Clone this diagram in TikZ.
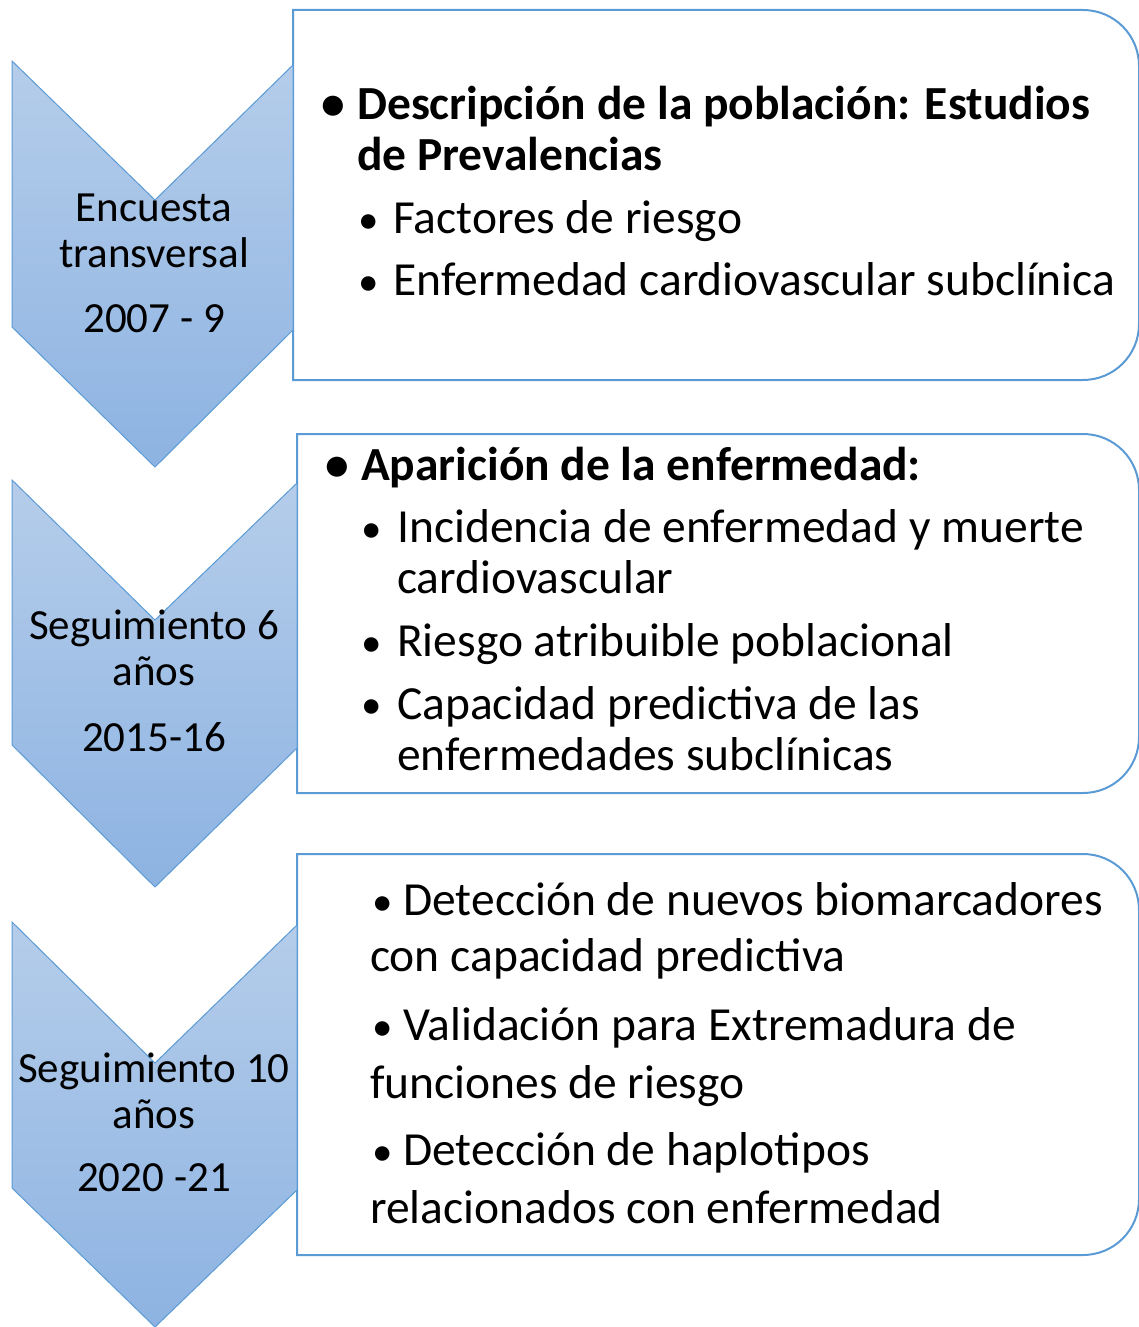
\documentclass[tikz,border=0pt]{standalone}
\usepackage{fontspec}
\setmainfont{Carlito}
\usetikzlibrary{positioning,shapes}
\definecolor{chevtop}{HTML}{B5CDEA}
\definecolor{chevbot}{HTML}{8DB3E2}
\definecolor{edgeblue}{HTML}{5B9BD5}
\newcommand{\smallbul}{{\fontsize{41}{41}\selectfont •}}
\tikzstyle{chev}=[top color=chevtop, bottom color=chevbot, draw=edgeblue, line width=1pt]
\tikzstyle{panel}=[draw=edgeblue, fill=white, line width=2pt]
\tikzstyle{lbl}=[anchor=base, align=center, inner sep=0, font=\fontsize{43}{46}\selectfont]
\tikzstyle{itm}=[anchor=base west, align=left, inner sep=0, font=\fontsize{47.5}{51}\selectfont]
\tikzstyle{itmb}=[itm, font=\fontsize{47.5}{51}\selectfont\bfseries]
\tikzstyle{bul}=[anchor=base, inner sep=0, font=\fontsize{41}{41}\selectfont]

\begin{document}
\begin{tikzpicture}[x=1pt, y=-1pt]
    \useasboundingbox (0,0) rectangle (1139,1327);
    % panels
    \draw[panel] (293,380) -- (293,10) -- (1083,10) .. controls (1114,10) and (1139,35) .. (1139,66)
        -- (1139,324) .. controls (1139,355) and (1114,380) .. (1083,380) -- cycle;
    \draw[panel] (297,793) -- (297,434) -- (1083,434) .. controls (1114,434) and (1139,459) .. (1139,490)
        -- (1139,737) .. controls (1139,768) and (1114,793) .. (1083,793) -- cycle;
    \draw[panel] (297,1255) -- (297,854) -- (1083,854) .. controls (1114,854) and (1139,879) .. (1139,910)
        -- (1139,1199) .. controls (1139,1230) and (1114,1255) .. (1083,1255) -- cycle;
    % chevrons
    \shadedraw[chev] (12,61) -- (155,200) -- (293,65) -- (293,330) -- (155,467) -- (12,327) -- cycle;
    \shadedraw[chev] (12,480) -- (155,620) -- (297,483) -- (297,748) -- (155,887) -- (12,745) -- cycle;
    \shadedraw[chev] (12,922) -- (155,1063) -- (297,925) -- (297,1190) -- (155,1327) -- (12,1188) -- cycle;
    % chevron labels (base = last line)
    \node[lbl] (enc) at (154,267) {Encuesta\\transversal};
    \node[lbl] (y1) at (154,332) {2007 - 9};
    \node[lbl] (seg6) at (154,685) {Seguimiento 6\\años};
    \node[lbl] (y2) at (154,751) {2015-16};
    \node[lbl] (seg10) at (154,1128) {Seguimiento 10\\años};
    \node[lbl] (y3) at (154,1191) {2020 -21};
    % panel 1
    \node[bul, font=\fontsize{47.5}{51}\selectfont\bfseries] (b1) at (333,120) {•};
    \node[itmb] (desc) at (357,170) {Descripción de la población: Estudios\\de Prevalencias};
    \node[bul] (b11) at (369,233) {•};
    \node[itm] (fact) at (393,233) {Factores de riesgo};
    \node[bul] (b12) at (369,295) {•};
    \node[itm] (enf) at (393,295) {Enfermedad cardiovascular subclínica};
    % panel 2
    \node[bul, font=\fontsize{47.5}{51}\selectfont\bfseries] (b2) at (337,480) {•};
    \node[itmb] (apar) at (361,480) {Aparición de la enfermedad:};
    \node[bul] (b21) at (372,542) {•};
    \node[itm] (inc) at (397,593) {Incidencia de enfermedad y muerte\\cardiovascular};
    \node[bul] (b22) at (372,656) {•};
    \node[itm] (rie) at (397,656) {Riesgo atribuible poblacional};
    \node[bul] (b23) at (372,718) {•};
    \node[itm] (cap) at (397,770) {Capacidad predictiva de las\\enfermedades subclínicas};
    % panel 3
    \node[itm, font=\fontsize{47.5}{56}\selectfont] (det) at (370,971) {\hspace{2pt}\smallbul\ Detección de nuevos biomarcadores\\con capacidad predictiva};
    \node[itm, font=\fontsize{47.5}{58}\selectfont] (val) at (370,1098) {\hspace{2pt}\smallbul\ Validación para Extremadura de\\funciones de riesgo};
    \node[itm, font=\fontsize{47.5}{58}\selectfont] (hap) at (370,1223) {\hspace{2pt}\smallbul\ Detección de haplotipos\\relacionados con enfermedad};
\end{tikzpicture}
\end{document}
